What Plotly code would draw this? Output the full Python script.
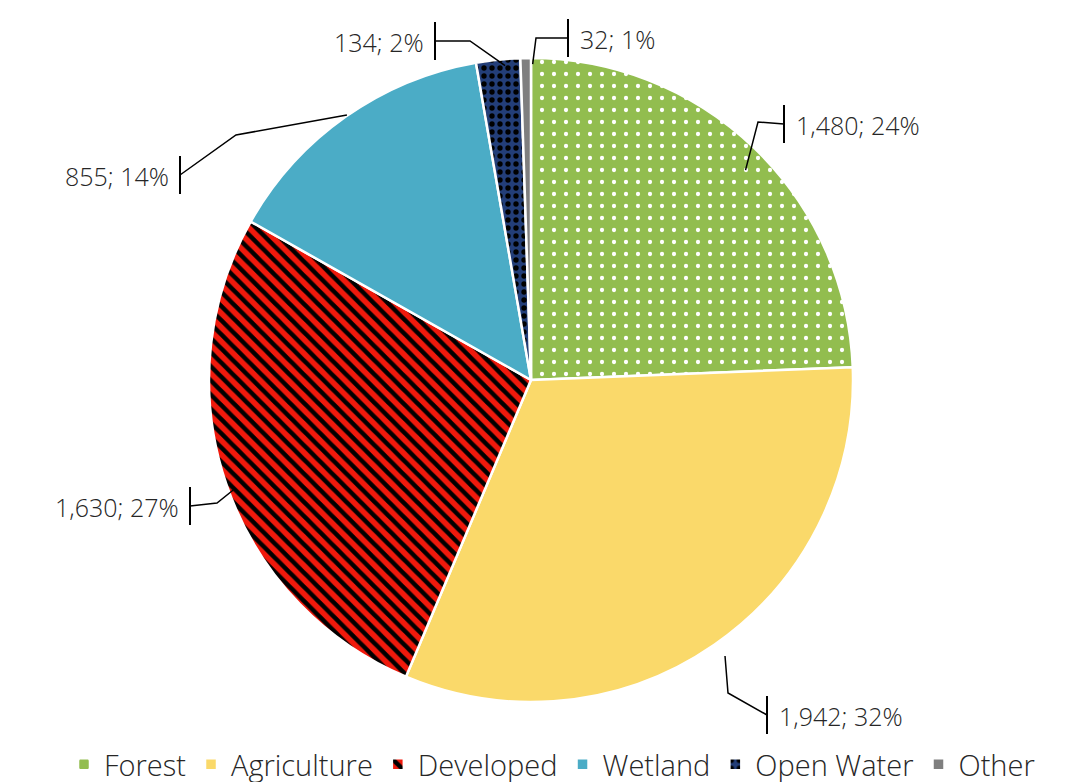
import math
import plotly.graph_objects as go

# land cover data (clockwise from 12 o'clock)
categories = ["Forest", "Agriculture", "Developed", "Wetland", "Open Water", "Other"]
acres = [1480, 1942, 1630, 855, 134, 32]

colors = ["#92BD4F", "#FAD96A", "#F0190C", "#4BACC6", "#233E78", "#7F7F7F"]
pattern_shapes = [".", "", "\\", "", ".", ""]
pattern_fg = ["#FFFFFF", "#FAD96A", "#000000", "#4BACC6", "#000000", "#7F7F7F"]
pattern_size = [12, 8, 10, 8, 8, 8]
pattern_solid = [0.1, 0.3, 0.45, 0.3, 0.35, 0.3]

# leader-line layout in pixels: start radius factor, elbow point, tick point, text side
start_r = [0.93, 1.02, 1.0, 1.03, 1.0, 1.0]
elbows = [(750, 114), (720, 685), (209, 495), (228, 127), (462, 33), (528, 30)]
ticks = [(776, 116), (759, 707), (182, 498), (172, 167), (427, 33), (560, 30)]
sides = ["left", "left", "right", "right", "right", "left"]

W, H = 1088, 782
cx, cy, R = 530, 378, 322
# small nudge: plotly draws the pie slightly off the domain centre
dx, dy = -7, -6

fig = go.Figure()
fig.add_trace(go.Pie(
    labels=categories,
    values=acres,
    sort=False,
    direction="clockwise",
    rotation=0,
    textinfo="none",
    hoverinfo="label+value+percent",
    domain=dict(x=[(cx + dx - R) / W, (cx + dx + R) / W],
                y=[(H - cy - dy - R) / H, (H - cy - dy + R) / H]),
    marker=dict(
        colors=colors,
        line=dict(color="white", width=2.5),
        pattern=dict(shape=pattern_shapes, fgcolor=pattern_fg, bgcolor=colors,
                     size=pattern_size, solidity=pattern_solid, fillmode="replace"),
    ),
))


def px2paper(x, y):
    return x / W, 1 - y / H


total = sum(acres)
start = 0.0
annotations = []
shapes = []
for v, k, (ex, ey), (tx, ty), side in zip(acres, start_r, elbows, ticks, sides):
    span = v / total * 360
    mid = math.radians(start + span / 2)
    start += span
    sx = cx + k * R * math.sin(mid)
    sy = cy - k * R * math.cos(mid)
    pts = [px2paper(sx, sy), px2paper(ex, ey), px2paper(tx, ty)]
    path = "M {} {} L {} {} L {} {}".format(*[c for p in pts for c in p])
    shapes.append(dict(type="path", path=path, xref="paper", yref="paper",
                       line=dict(color="black", width=1.5)))
    x0, y0 = px2paper(tx, ty - 19)
    x1, y1 = px2paper(tx, ty + 19)
    shapes.append(dict(type="line", x0=x0, y0=y0, x1=x1, y1=y1, xref="paper", yref="paper",
                       line=dict(color="black", width=2)))
    pct = max(round(v / total * 100), 1)
    ax_, ay_ = px2paper(tx + (10 if side == "left" else -9), ty + 1)
    annotations.append(dict(
        x=ax_, y=ay_, xref="paper", yref="paper",
        xanchor=side, yanchor="middle", showarrow=False,
        text=f"{v:,}; {pct}%",
        font=dict(size=25, color="#262626"),
    ))

fig.update_layout(
    width=W, height=H,
    margin=dict(l=0, r=0, t=0, b=0),
    paper_bgcolor="white",
    font=dict(family="Open Sans", size=25, color="#262626", weight=300),
    annotations=annotations,
    shapes=shapes,
    showlegend=True,
    legend=dict(
        orientation="h", x=0.5, xanchor="center", y=0.0, yanchor="bottom",
        font=dict(size=29), itemwidth=30, traceorder="normal",
        tracegroupgap=0,
    ),
)

fig.write_html("out.html")
